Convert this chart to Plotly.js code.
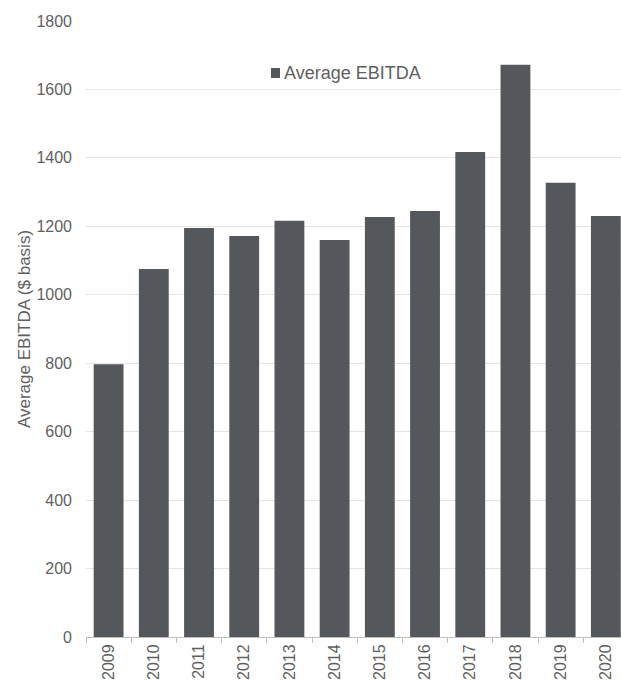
<!DOCTYPE html>
<html>
<head>
<meta charset="utf-8">
<script src="https://cdn.plot.ly/plotly-3.0.1.min.js"></script>
<style>html,body{margin:0;padding:0;background:#fff;}#chart{width:621px;height:680px;}</style>
</head>
<body>
<div id="chart"></div>
<script>
const years = ['2009','2010','2011','2012','2013','2014','2015','2016','2017','2018','2019','2020'];
const avgEbitda = [797, 1075, 1195, 1172, 1216, 1160, 1227, 1245, 1417, 1672, 1327, 1230];
const seriesName = 'Average EBITDA';
const yTitle = 'Average EBITDA ($ basis)';
const yTicks = [0, 200, 400, 600, 800, 1000, 1200, 1400, 1600, 1800];

const font = {family: '"Liberation Sans", Arial, sans-serif', size: 16, color: '#5f5f5f'};
const barColor = '#54575b';

Plotly.newPlot('chart', [{
  type: 'bar',
  x: years,
  y: avgEbitda,
  name: seriesName,
  marker: {color: barColor},
  showlegend: false,
  hoverinfo: 'x+y'
}], {
  width: 621, height: 680,
  margin: {l: 86, r: 0, t: 21, b: 43, pad: 0},
  paper_bgcolor: '#fff', plot_bgcolor: '#fff',
  font: font,
  bargap: 0.34,
  xaxis: {
    type: 'category',
    range: [-0.5, 11.335],
    tickangle: -90,
    ticks: 'outside', tickson: 'boundaries', ticklen: 5, tickcolor: '#bfbfbf',
    showline: true, linecolor: '#bfbfbf', linewidth: 1,
    showgrid: false, automargin: false,
    tickfont: font
  },
  yaxis: {
    range: [0, 1800],
    tickvals: yTicks,
    showgrid: true, gridcolor: '#e4e4e4', gridwidth: 1,
    zeroline: false, showline: false,
    ticks: '', ticklabelstandoff: 13,
    automargin: false,
    tickfont: font,
    title: {text: yTitle, font: {family: font.family, size: 17, color: '#5f5f5f'}, standoff: 1}
  },
  shapes: [{
    type: 'rect', xref: 'paper', yref: 'paper',
    x0: 0.3458, x1: 0.3626, y0: 0.9075, y1: 0.9237,
    fillcolor: barColor, line: {width: 0}
  }],
  annotations: [{
    xref: 'paper', yref: 'paper', x: 0.3664, y: 0.9156, xanchor: 'left', yanchor: 'middle',
    text: seriesName, showarrow: false,
    font: {family: font.family, size: 18, color: '#5f5f5f'}
  }]
}, {displayModeBar: false, staticPlot: true});
</script>
</body>
</html>
